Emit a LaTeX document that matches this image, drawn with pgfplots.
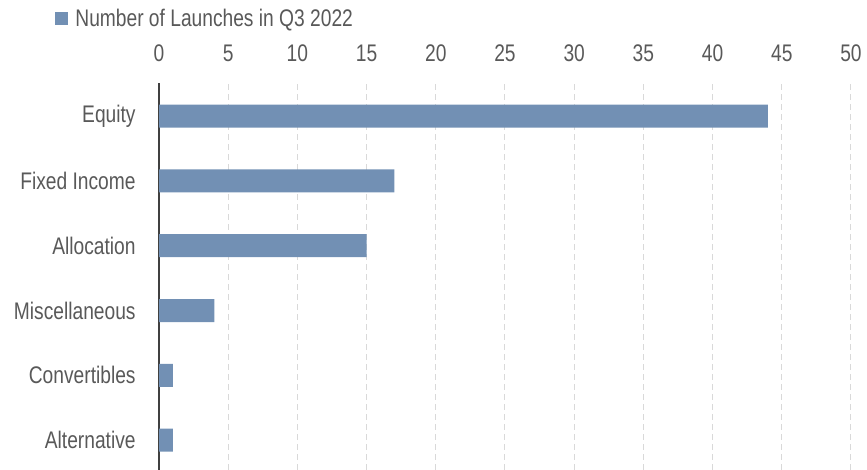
\documentclass[border=0pt]{standalone}
\usepackage{fontspec}
\setmainfont{Liberation Sans}[FakeStretch=0.8]
\usepackage{pgfplots}
\pgfplotsset{compat=1.18}
\definecolor{barblue}{HTML}{7290B4}
\definecolor{txtgray}{HTML}{595959}
\definecolor{gridgray}{HTML}{D9D9D9}
\begin{document}
\begin{tikzpicture}
\useasboundingbox (0,0) rectangle (433.5pt,235pt);
\begin{axis}[
  at={(79.5pt,0pt)}, anchor=south west,
  scale only axis,
  width=346pt, height=193.5pt,
  xbar, bar width=11.5pt,
  xmin=0, xmax=50,
  ymin=-0.46, ymax=5.51,
  xtick={0,5,...,50},
  ytick={0,...,5},
  yticklabels={Alternative,Convertibles,Miscellaneous,Allocation,Fixed Income,Equity},
  axis x line*=top,
  axis y line*=left,
  x axis line style={draw=none},
  y axis line style={draw=black!75, line width=0.6pt, -},
  major tick length=0pt,
  tick style={draw=none},
  xmajorgrids,
  major grid style={draw=gridgray, dash pattern=on 3pt off 2pt, line width=0.5pt},
  /pgf/number format/assume math mode=true,
  tick label style={font=\fontsize{12}{14}\selectfont, text=txtgray},
  xticklabel style={inner sep=0pt, anchor=south, yshift=10.5pt},
  yticklabel style={inner sep=0pt, anchor=east, xshift=-11.5pt},
  legend style={at={(axis description cs:0,1)}, anchor=west,
    xshift=-52pt, yshift=32pt, draw=none, fill=none, inner sep=0pt,
    font=\fontsize{12}{14}\selectfont, text=txtgray,
    nodes={inner sep=0pt}},
  legend image code/.code={\fill[barblue] (0pt,-3.25pt) rectangle (6.5pt,3.25pt);},
  legend cell align=left,
]
\addplot[fill=barblue, draw=none] coordinates {
  (1,0) (1,1) (4,2) (15,3) (17,4) (44,5)
};
\addlegendentry{\hspace{3.5pt}Number of Launches in Q3 2022}
\end{axis}
\end{tikzpicture}
\end{document}
